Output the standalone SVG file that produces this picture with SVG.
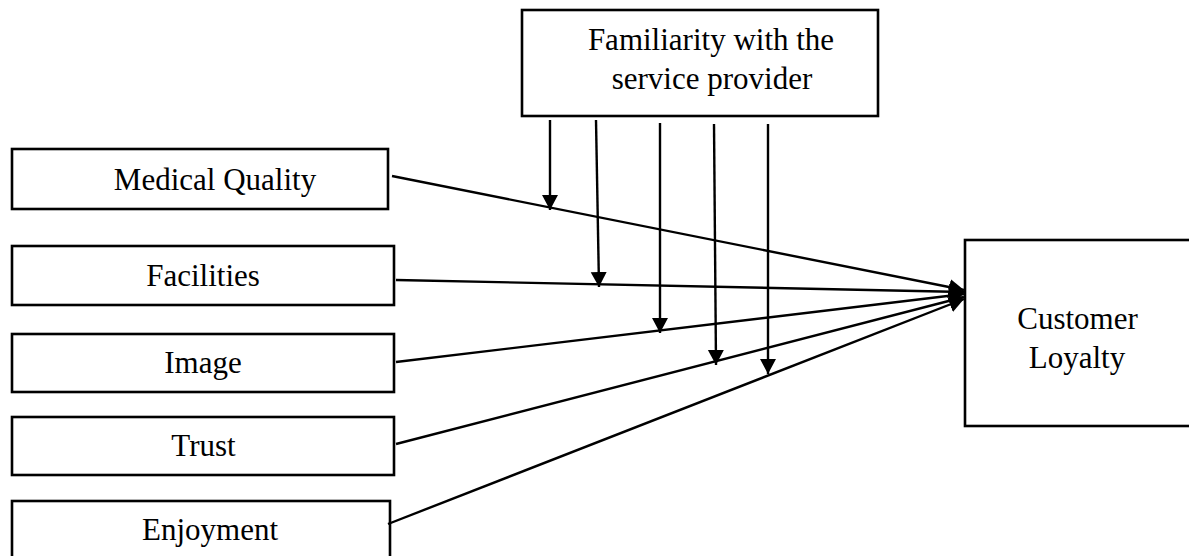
<svg xmlns="http://www.w3.org/2000/svg" width="1189" height="556" viewBox="0 0 1189 556">
<style>
.box{fill:#fff;stroke:#000;stroke-width:2.6}
.t{font-family:"Liberation Serif","Times New Roman",serif;font-size:31px;fill:#000;text-anchor:middle}
.c{fill:none;stroke:#000;stroke-width:2.4}
</style>
<defs>
<marker id="ah" markerUnits="userSpaceOnUse" markerWidth="18" markerHeight="18" refX="15" refY="8" orient="auto">
<path d="M0,0 L15,8 L0,16 z" fill="#000"/>
</marker>
</defs>
<rect width="1189" height="556" fill="#fff"/>
<g id="familiarity">
<rect class="box" x="522" y="10" width="356" height="106"/>
<text class="t" x="711" y="50">Familiarity with the</text>
<text class="t" x="712" y="89">service provider</text>
</g>
<g id="medical-quality">
<rect class="box" x="12" y="149" width="376" height="60"/>
<text class="t" x="215" y="190">Medical Quality</text>
</g>
<g id="facilities">
<rect class="box" x="12" y="246" width="382" height="59"/>
<text class="t" x="203" y="286">Facilities</text>
</g>
<g id="image">
<rect class="box" x="12" y="334" width="382" height="58"/>
<text class="t" x="203" y="373">Image</text>
</g>
<g id="trust">
<rect class="box" x="12" y="417" width="382" height="58"/>
<text class="t" x="203.5" y="456">Trust</text>
</g>
<g id="enjoyment">
<rect class="box" x="12" y="501" width="378" height="70"/>
<text class="t" x="210" y="540">Enjoyment</text>
</g>
<g id="customer-loyalty">
<rect class="box" x="965" y="240" width="240" height="186"/>
<text class="t" x="1077.5" y="329">Customer</text>
<text class="t" x="1077" y="368">Loyalty</text>
</g>
<g id="connectors">
<line class="c" x1="392" y1="176" x2="964" y2="290" marker-end="url(#ah)"/>
<line class="c" x1="396" y1="280" x2="964" y2="292" marker-end="url(#ah)"/>
<line class="c" x1="396" y1="362" x2="964" y2="294" marker-end="url(#ah)"/>
<line class="c" x1="396" y1="444" x2="964" y2="297" marker-end="url(#ah)"/>
<line class="c" x1="388" y1="524" x2="964" y2="299" marker-end="url(#ah)"/>
<line class="c" x1="550" y1="120" x2="550" y2="210" marker-end="url(#ah)"/>
<line class="c" x1="596" y1="120" x2="599" y2="287" marker-end="url(#ah)"/>
<line class="c" x1="660" y1="123" x2="660" y2="333" marker-end="url(#ah)"/>
<line class="c" x1="714" y1="124" x2="716" y2="365" marker-end="url(#ah)"/>
<line class="c" x1="768" y1="124" x2="768" y2="374" marker-end="url(#ah)"/>
</g>
</svg>
